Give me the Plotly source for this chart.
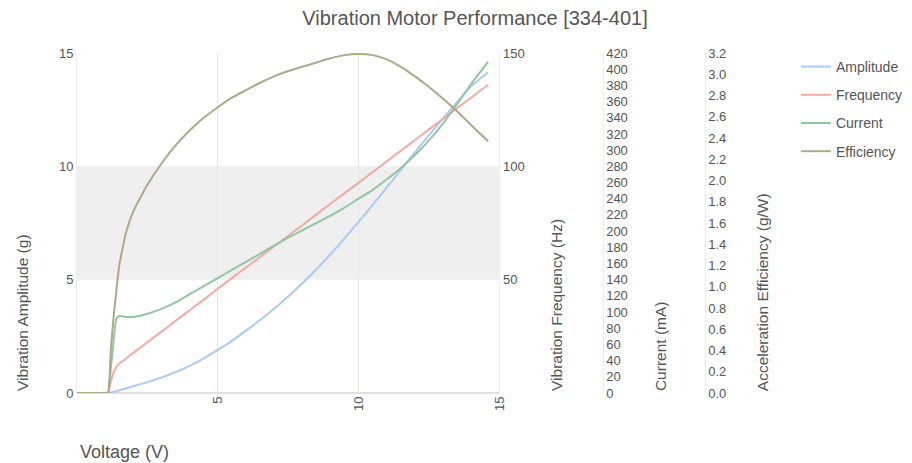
import plotly.graph_objects as go

voltage = [0, 0.5, 1.0, 1.1, 1.2, 1.3, 1.4, 1.5, 1.75, 2, 2.5, 3, 3.5, 4, 4.5, 5, 5.5, 6, 6.5, 7,
           7.5, 8, 8.5, 9, 9.5, 10, 10.5, 11, 11.5, 12, 12.5, 13, 13.5, 14, 14.6]
amplitude = [0, 0, 0, 0, 0.02, 0.05, 0.08, 0.12, 0.2, 0.3, 0.48, 0.68, 0.92, 1.2, 1.53, 1.9, 2.3, 2.75,
             3.22, 3.72, 4.26, 4.84, 5.46, 6.12, 6.82, 7.55, 8.3, 9.07, 9.85, 10.62, 11.38, 12.12, 12.84, 13.54, 14.15]
frequency = [0, 0, 0, 0, 5, 9, 11.5, 13, 15.3, 17.7, 22.4, 27.1, 31.8, 36.5, 41.2, 46, 50.7, 55.4,
             60, 64.7, 69.4, 74, 78.8, 83.5, 88.2, 92.8, 97.5, 102.2, 106.9, 111.6, 116.3, 121, 125.7, 130.4, 136]
current = [0, 0, 0, 0, 30, 65, 92, 95, 94, 94, 98, 104, 112, 122, 132, 142, 152, 162,
           172, 182, 192, 201, 210, 219, 229, 240, 251, 264, 278, 294, 312, 333, 357, 382, 409]
efficiency = [0, 0, 0, 0, 0.4, 0.72, 0.97, 1.2, 1.52, 1.71, 1.96, 2.16, 2.33, 2.47, 2.59, 2.69, 2.78, 2.85,
              2.92, 2.98, 3.03, 3.07, 3.11, 3.15, 3.18, 3.19, 3.18, 3.14, 3.07, 2.98, 2.88, 2.77, 2.65, 2.52, 2.37]

names = ["Amplitude", "Frequency", "Current", "Efficiency"]
colors = ["#a9c9f7", "#f4aaa2", "#8fc7a2", "#aea986"]
band = [5, 10]
x_ticks = [5, 10, 15]
amp_ticks = [0, 5, 10, 15]
freq_ticks = [50, 100, 150]
current_ticks = list(range(0, 421, 20))
eff_ticks = [round(i * 0.2, 1) for i in range(17)]

FONT = "Liberation Sans, Arial, sans-serif"
TXT = "#555555"

L, R, T, B = 77, 0, 53, 70
PW = 912 - L - R
PH = 463 - T - B
def px(x):
    return (x - L) / PW

fig = go.Figure()
series = [amplitude, frequency, current, efficiency]
axes = ["y", "y2", "y3", "y4"]
for n, s, c, a in zip(names, series, colors, axes):
    fig.add_trace(go.Scatter(x=voltage, y=s, name=n, yaxis=a, mode="lines",
                             line=dict(color=c, width=2, shape="spline", smoothing=0.5),
                             legendgroup=n))

fig.add_shape(type="rect", xref="x domain", x0=0, x1=1, yref="y", y0=band[0], y1=band[1],
              fillcolor="#efefef", line=dict(width=0), layer="below")

tf = dict(size=13, color=TXT)
dom_end = px(503)
fig.update_layout(
    width=912, height=463,
    margin=dict(l=L, r=R, t=T, b=B),
    plot_bgcolor="white", paper_bgcolor="white",
    font=dict(family=FONT, size=13, color=TXT),
    title=dict(text="Vibration Motor Performance [334-401]", x=475 / 912, xanchor="center",
               y=1 - 18 / 463, yanchor="middle", font=dict(size=20, color=TXT)),
    xaxis=dict(domain=[0, dom_end], range=[0, 15], tickvals=x_ticks, tickangle=-90,
               showgrid=True, gridcolor="#e8e8e8", gridwidth=1, zeroline=False,
               showline=False, tickfont=tf),
    yaxis=dict(range=[0, 15], tickvals=amp_ticks, showgrid=False, zeroline=True,
               zerolinecolor="#e0e0e0", zerolinewidth=2, showline=True, linecolor="#ececec",
               tickfont=tf),
    yaxis2=dict(range=[0, 150], tickvals=freq_ticks, overlaying="y", side="right", anchor="x",
                showgrid=False, zeroline=False, showline=True, linecolor="#ececec", tickfont=tf),
    yaxis3=dict(range=[0, 420], tickvals=current_ticks, overlaying="y", side="right", anchor="free",
                position=px(607), showgrid=False, zeroline=False, showline=True, linecolor="#ececec",
                tickfont=tf),
    yaxis4=dict(range=[0, 3.2], tickvals=eff_ticks, tickformat=".1f", overlaying="y", side="right",
                anchor="free", position=px(710), showgrid=False, zeroline=False, showline=True,
                linecolor="#ececec", tickfont=tf),
    legend=dict(x=px(802), xanchor="left", y=1 + 2 / PH, yanchor="top", tracegroupgap=7,
                font=dict(size=14, color=TXT), bgcolor="rgba(0,0,0,0)"),
    showlegend=True,
)

titles = [("Vibration Amplitude (g)", 22), ("Vibration Frequency (Hz)", 560),
          ("Current (mA)", 665), ("Acceleration Efficiency (g/W)", 768)]
for t, xp in titles:
    fig.add_annotation(text=t, xref="paper", yref="paper", x=px(xp), y=0, xanchor="center",
                       yanchor="bottom", textangle=-90, showarrow=False,
                       font=dict(size=15.5, color=TXT, family=FONT))
fig.add_annotation(text="Voltage (V)", xref="paper", yref="paper", x=px(78), y=-(452 - 393) / PH,
                   xanchor="left", yanchor="middle", showarrow=False,
                   font=dict(size=18, color=TXT, family=FONT))

fig.write_html("out.html")
